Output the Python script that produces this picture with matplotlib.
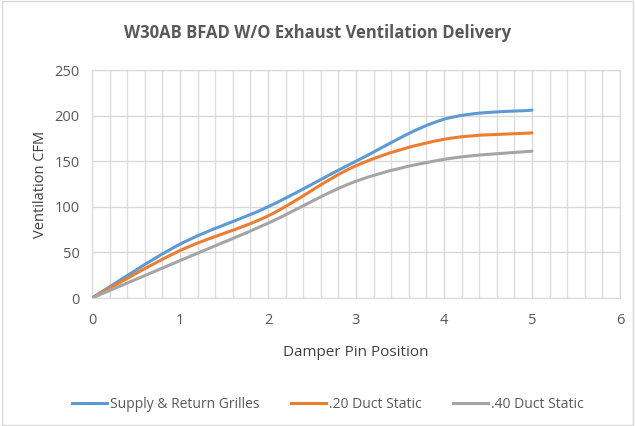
import matplotlib
matplotlib.use('Agg')
import matplotlib.pyplot as plt
from matplotlib.path import Path
from matplotlib.patches import PathPatch, Rectangle
from matplotlib.lines import Line2D
import numpy as np

# Data
damper_pos = [0, 1, 2, 3, 4, 5]
supply_return = [0, 59, 100, 150, 196, 206]
duct_20 = [0, 52, 90, 145, 174, 181]
duct_40 = [0, 41, 82, 128, 152, 161]

series_names = ['Supply & Return Grilles', '.20 Duct Static', '.40 Duct Static']
series_colors = ['#5B9BD5', '#ED7D31', '#A5A5A5']

plt.rcParams.update({'font.family': 'Open Sans'})
text_color = '#595959'
grid_color = '#D9D9D9'


def smooth_path(xs, ys):
    # Excel-style smoothed line: cubic Bezier segments through the data points
    pts = np.column_stack([xs, ys]).astype(float)
    n = len(pts)
    verts = [pts[0]]
    codes = [Path.MOVETO]
    for i in range(n - 1):
        p0 = pts[i - 1] if i > 0 else pts[i]
        p1 = pts[i]
        p2 = pts[i + 1]
        p3 = pts[i + 2] if i + 2 < n else pts[i + 1]
        c1 = p1 + (p2 - p0) / 6.0
        c2 = p2 - (p3 - p1) / 6.0
        verts += [c1, c2, p2]
        codes += [Path.CURVE4] * 3
    return Path(verts, codes)


fig = plt.figure(figsize=(6.35, 4.26), dpi=100)
ax = fig.add_axes([92 / 635, 1 - 298 / 426, 528 / 635, 228 / 426])

for ys, col in zip([supply_return, duct_20, duct_40], series_colors):
    patch = PathPatch(smooth_path(damper_pos, ys), facecolor='none', edgecolor=col,
                      linewidth=2.2, capstyle='round', zorder=3)
    ax.add_patch(patch)

ax.set_xlim(0, 6)
ax.set_ylim(0, 250)
ax.set_xticks(range(0, 7))
ax.set_yticks(range(0, 251, 50))
ax.grid(True, which='major', color=grid_color, linewidth=1.0, zorder=0)
# minor vertical gridlines every 0.2
minor_x = [x for x in np.arange(0.2, 6.0, 0.2) if abs(x - round(x)) > 1e-6]
ax.vlines(minor_x, 0, 1, transform=ax.get_xaxis_transform(), colors='#DDDDDD',
          linewidth=1.0, zorder=0, snap=True)
ax.set_axisbelow(True)
ax.tick_params(which='both', length=0, colors=text_color, labelsize=10.5)
ax.tick_params(axis='x', pad=11)
ax.tick_params(axis='y', pad=9)
for s in ax.spines.values():
    s.set_color(grid_color)

ax.set_xlabel('Damper Pin Position', color='#404040', fontsize=11, va='center')
ax.set_ylabel('Ventilation CFM', color='#404040', fontsize=10.5, va='center')
ax.xaxis.set_label_coords(0.5, (298 - 352) / 228)
ax.yaxis.set_label_coords((40 - 92) / 528, 0.5)

fig.text(0.5, 1 - 33 / 426, 'W30AB BFAD W/O Exhaust Ventilation Delivery',
         ha='center', va='center', fontsize=12, fontweight='bold', color=text_color)

handles = [Line2D([], [], color=c, linewidth=2.2) for c in series_colors]
fig.legend(handles, series_names, loc='center', bbox_to_anchor=(328 / 635, 1 - 404 / 426),
           ncol=3, frameon=False, fontsize=10, labelcolor=text_color,
           handlelength=2.5, handletextpad=0.2, columnspacing=2.3)

fig.patches.append(Rectangle((0.003, 0.003), 0.994, 0.994, transform=fig.transFigure,
                             fill=False, edgecolor=grid_color, linewidth=1))

fig.savefig('out.png', dpi=100)
